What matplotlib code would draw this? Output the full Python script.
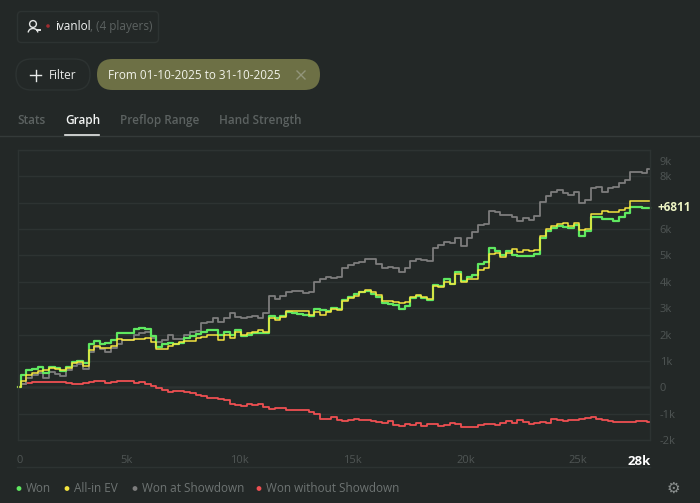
import numpy as np
import matplotlib
matplotlib.use('Agg')
import matplotlib.pyplot as plt
from matplotlib.patches import FancyBboxPatch, Circle, Arc
from matplotlib.transforms import ScaledTranslation

hands = np.arange(0, 28001, 250)

won = [0, 470, 660, 700, 770, 540, 770, 730, 620, 770, 960, 1000, 920, 1650, 1760, 1650, 1680, 1780, 2060, 2060,
       2060, 2210, 2250, 2210, 1950, 1530, 1650, 1680, 1650, 1680, 1870, 1950, 2030, 2100, 2160, 2180, 1990, 2100,
       1990, 2180, 1950, 1990, 2060, 2060, 2060, 2700, 2630, 2700, 2860, 2820, 2780, 2750, 2700, 2970, 2930, 2900,
       3010, 2970, 3310, 3430, 3540, 3620, 3660, 3540, 3430, 3200, 3160, 3120, 2970, 3080, 3390, 3470, 3390, 3320,
       3890, 3850, 4100, 3930, 4380, 4040, 4190, 4270, 4690, 4760, 5290, 5180, 5030, 5180, 5030, 4970, 4990, 4990,
       5070, 5670, 5940, 6050, 6130, 6090, 6050, 6170, 5750, 5940, 6440, 6440, 6400, 6400, 6320, 6470, 6620, 6850,
       6850, 6810, 6811]

allin_ev = [0, 250, 480, 550, 620, 640, 720, 700, 640, 740, 930, 960, 820, 1420, 1550, 1500, 1490, 1570, 1830, 1780,
            1800, 1820, 1830, 1880, 1720, 1470, 1440, 1560, 1650, 1700, 1760, 1770, 1880, 1920, 2000, 2000, 1800, 1970,
            1860, 2080, 1980, 2060, 2110, 2190, 2100, 2640, 2560, 2680, 2900, 2880, 2880, 2880, 2760, 2860, 2740, 2860,
            2960, 2950, 3260, 3380, 3480, 3600, 3680, 3600, 3500, 3290, 3280, 3240, 3180, 3220, 3420, 3510, 3440, 3340,
            3830, 3800, 4000, 3920, 4300, 4000, 4120, 4120, 4440, 4520, 5050, 5100, 4950, 5080, 5230, 5130, 5200, 5170,
            5220, 5750, 6000, 6100, 6180, 6240, 6100, 6220, 5980, 6000, 6580, 6560, 6700, 6660, 6640, 6720, 6800, 7070,
            7050, 7080, 7050]

showdown = [0, 120, 340, 470, 560, 360, 590, 500, 440, 640, 800, 880, 690, 1350, 1520, 1450, 1340, 1500, 1650, 1800,
            1800, 2000, 2060, 2100, 1880, 1700, 1800, 2000, 1830, 1830, 2000, 2080, 2150, 2430, 2480, 2630, 2480, 2620,
            2820, 2650, 2620, 2680, 2720, 2640, 2830, 3450, 3360, 3470, 3620, 3660, 3660, 3580, 3620, 4000, 4120, 4190,
            4150, 4190, 4530, 4650, 4720, 4760, 4880, 4880, 4680, 4530, 4570, 4530, 4380, 4530, 4800, 4880, 4840, 4800,
            5290, 5410, 5520, 5480, 5670, 5370, 5670, 5900, 6170, 6210, 6700, 6660, 6550, 6550, 6470, 6320, 6430, 6360,
            6510, 7040, 7270, 7420, 7500, 7380, 7310, 7420, 7000, 7120, 7570, 7610, 7420, 7570, 7610, 7730, 7880, 8150,
            8150, 8110, 8290]

no_showdown = [0, 120, 170, 210, 210, 210, 210, 200, 190, 150, 120, 140, 170, 200, 250, 220, 170, 190, 220, 240,
               240, 170, 210, 120, 30, -40, -100, -170, -140, -140, -180, -230, -310, -340, -400, -410, -450, -490,
               -620, -690, -700, -640, -690, -640, -740, -820, -790, -790, -860, -860, -860, -880, -920, -1010, -1215,
               -1200, -1120, -1250, -1270, -1240, -1220, -1250, -1260, -1280, -1310, -1370, -1275, -1420, -1470, -1400,
               -1420, -1340, -1450, -1400, -1400, -1470, -1430, -1340, -1380, -1500, -1500, -1490, -1420, -1400, -1410,
               -1430, -1340, -1270, -1360, -1240, -1300, -1390, -1350, -1330, -1340, -1190, -1240, -1270, -1250, -1240,
               -1200, -1170, -1140, -1190, -1250, -1280, -1320, -1300, -1310, -1330, -1280, -1290, -1310]

y_ticks = [-2000, -1000, 0, 1000, 2000, 3000, 4000, 5000, 6000, 7000, 8000, 9000]
y_labels = ['-2k', '-1k', '0', '1k', '2k', '3k', '4k', '5k', '6k', '', '8k', '9k']
x_ticks = [0, 5000, 10000, 15000, 20000, 25000, 28000]
x_labels = ['0', '5k', '10k', '15k', '20k', '25k', '28k']
legend_names = ['Won', 'All-in EV', 'Won at Showdown', 'Won without Showdown']
legend_x = [19, 67, 135, 259]

bg = '#232827'
line_dark = '#2d3332'
green = '#5fe860'
yellow = '#f4e53f'
gray = '#7d7d7d'
red = '#ee4f52'

plt.rcParams['font.family'] = ['Open Sans', 'DejaVu Sans']
ui_size = 8.5

fig = plt.figure(figsize=(7, 5.03), dpi=100, facecolor=bg)

# page furniture, in pixels
ui = fig.add_axes([0, 0, 1, 1])
ui.set_xlim(0, 700)
ui.set_ylim(503, 0)
ui.axis('off')

ui.add_patch(FancyBboxPatch((17.5, 11.5), 141, 31, boxstyle='round,pad=0,rounding_size=4', fc='none', ec=line_dark, lw=1))
ui.add_patch(FancyBboxPatch((16, 59), 74, 31, boxstyle='round,pad=0,rounding_size=15.5', fc='none', ec=line_dark, lw=1))
ui.add_patch(FancyBboxPatch((97, 59), 223, 31, boxstyle='round,pad=0,rounding_size=15.5', fc='#6d7045', ec='none'))

# player icon
ui.add_patch(Circle((33, 24), 3.4, fc='none', ec='#e4e6e5', lw=1))
ui.add_patch(Arc((33, 32.5), 9.5, 8, theta1=180, theta2=360, ec='#e4e6e5', lw=1))
ui.plot([36.5, 39.5], [30, 30], color='#e4e6e5', lw=1.4)
ui.add_patch(Circle((48, 26), 1.8, fc='#a02c30', ec='none'))
ui.text(55, 26, 'ivanlol', color='#f2f4f3', fontsize=ui_size, va='center', weight='medium')
ui.text(90, 26, ', (4 players)', color='#5c6261', fontsize=ui_size, va='center')

ui.plot([30, 41], [75, 75], color='#e8eae9', lw=1)
ui.plot([35.5, 35.5], [69.5, 80.5], color='#e8eae9', lw=1)
ui.text(49, 75, 'Filter', color='#e8eae9', fontsize=ui_size, va='center')
ui.text(108, 75, 'From 01-10-2025 to 31-10-2025', color='#f2f3ea', fontsize=ui_size, va='center')
ui.plot([297, 305], [71, 79], color='#92957a', lw=1)
ui.plot([297, 305], [79, 71], color='#92957a', lw=1)

ui.text(17, 120, 'Stats', color='#5c6261', fontsize=ui_size, va='center', weight='semibold')
ui.text(65, 120, 'Graph', color='#f2f4f3', fontsize=ui_size, va='center', weight='semibold')
ui.text(120, 120, 'Preflop Range', color='#5c6261', fontsize=ui_size, va='center', weight='semibold')
ui.text(219, 120, 'Hand Strength', color='#5c6261', fontsize=ui_size, va='center', weight='semibold')
ui.plot([0, 700], [136, 136], color='#343a39', lw=1)
ui.plot([65, 99], [135, 135], color='#e8eae9', lw=1.2)

ui.plot([17, 650], [466.5, 466.5], color=line_dark, lw=1)

for name, lx, col in zip(legend_names, legend_x, [green, yellow, gray, red]):
    ui.add_patch(Circle((lx, 488.5), 2.4, fc=col, ec='none'))
    ui.text(lx + 7, 489, name, color='#6e7473', fontsize=ui_size, va='center')

ui.text(673, 488, '⚙', color='#8a8f8e', fontsize=11, va='center', ha='center', family=['DejaVu Sans'])

# the chart
ax = fig.add_axes([18 / 700, (503 - 440) / 503, 632 / 700, 290 / 503])
ax.set_facecolor('none')
ax.set_xlim(0, 28000)
ax.set_ylim(-2000, 9000)

ax.grid(axis='y', color=line_dark, lw=1)
ax.axhline(0, color='#4b5150', lw=1, zorder=1)
for side in ['top', 'left', 'right', 'bottom']:
    ax.spines[side].set_color(line_dark)
    ax.spines[side].set_linewidth(1)

ax.plot(hands, no_showdown, color=red, lw=1.3, clip_on=False, drawstyle='steps-mid')
ax.plot(hands, showdown, color=gray, lw=1.3, clip_on=False, drawstyle='steps-mid')
ax.plot(hands, won, color=green, lw=1.6, clip_on=False, drawstyle='steps-mid')
ax.plot(hands, allin_ev, color=yellow, lw=1.1, clip_on=False, drawstyle='steps-mid')

ax.yaxis.tick_right()
ax.set_yticks(y_ticks)
ax.set_yticklabels(y_labels, color='#4f5554', fontsize=8)
ax.set_xticks(x_ticks)
ax.set_xticklabels(x_labels, color='#4f5554', fontsize=8)
ax.tick_params(axis='both', length=0)
ax.tick_params(axis='y', pad=7)
ax.tick_params(axis='x', pad=11)

x_shift = [2, -4, -4, -4, -4, -4, -11]
for lab, dx in zip(ax.get_xticklabels(), x_shift):
    lab.set_transform(lab.get_transform() + ScaledTranslation(dx / 100, 0, fig.dpi_scale_trans))
last = ax.get_xticklabels()[-1]
last.set_color('#ffffff')
last.set_fontweight('bold')
last.set_fontsize(9.5)

top = ax.get_yticklabels()[-1]
top.set_transform(top.get_transform() + ScaledTranslation(0, -11 / 100, fig.dpi_scale_trans))

ax.annotate('+%d' % won[-1], xy=(hands[-1], won[-1]), xytext=(7, 0), textcoords='offset pixels',
            color='#eef5c4', fontsize=8.5, fontweight='bold', va='center', ha='left', annotation_clip=False)

fig.savefig('out.png', dpi=100, facecolor=bg)
